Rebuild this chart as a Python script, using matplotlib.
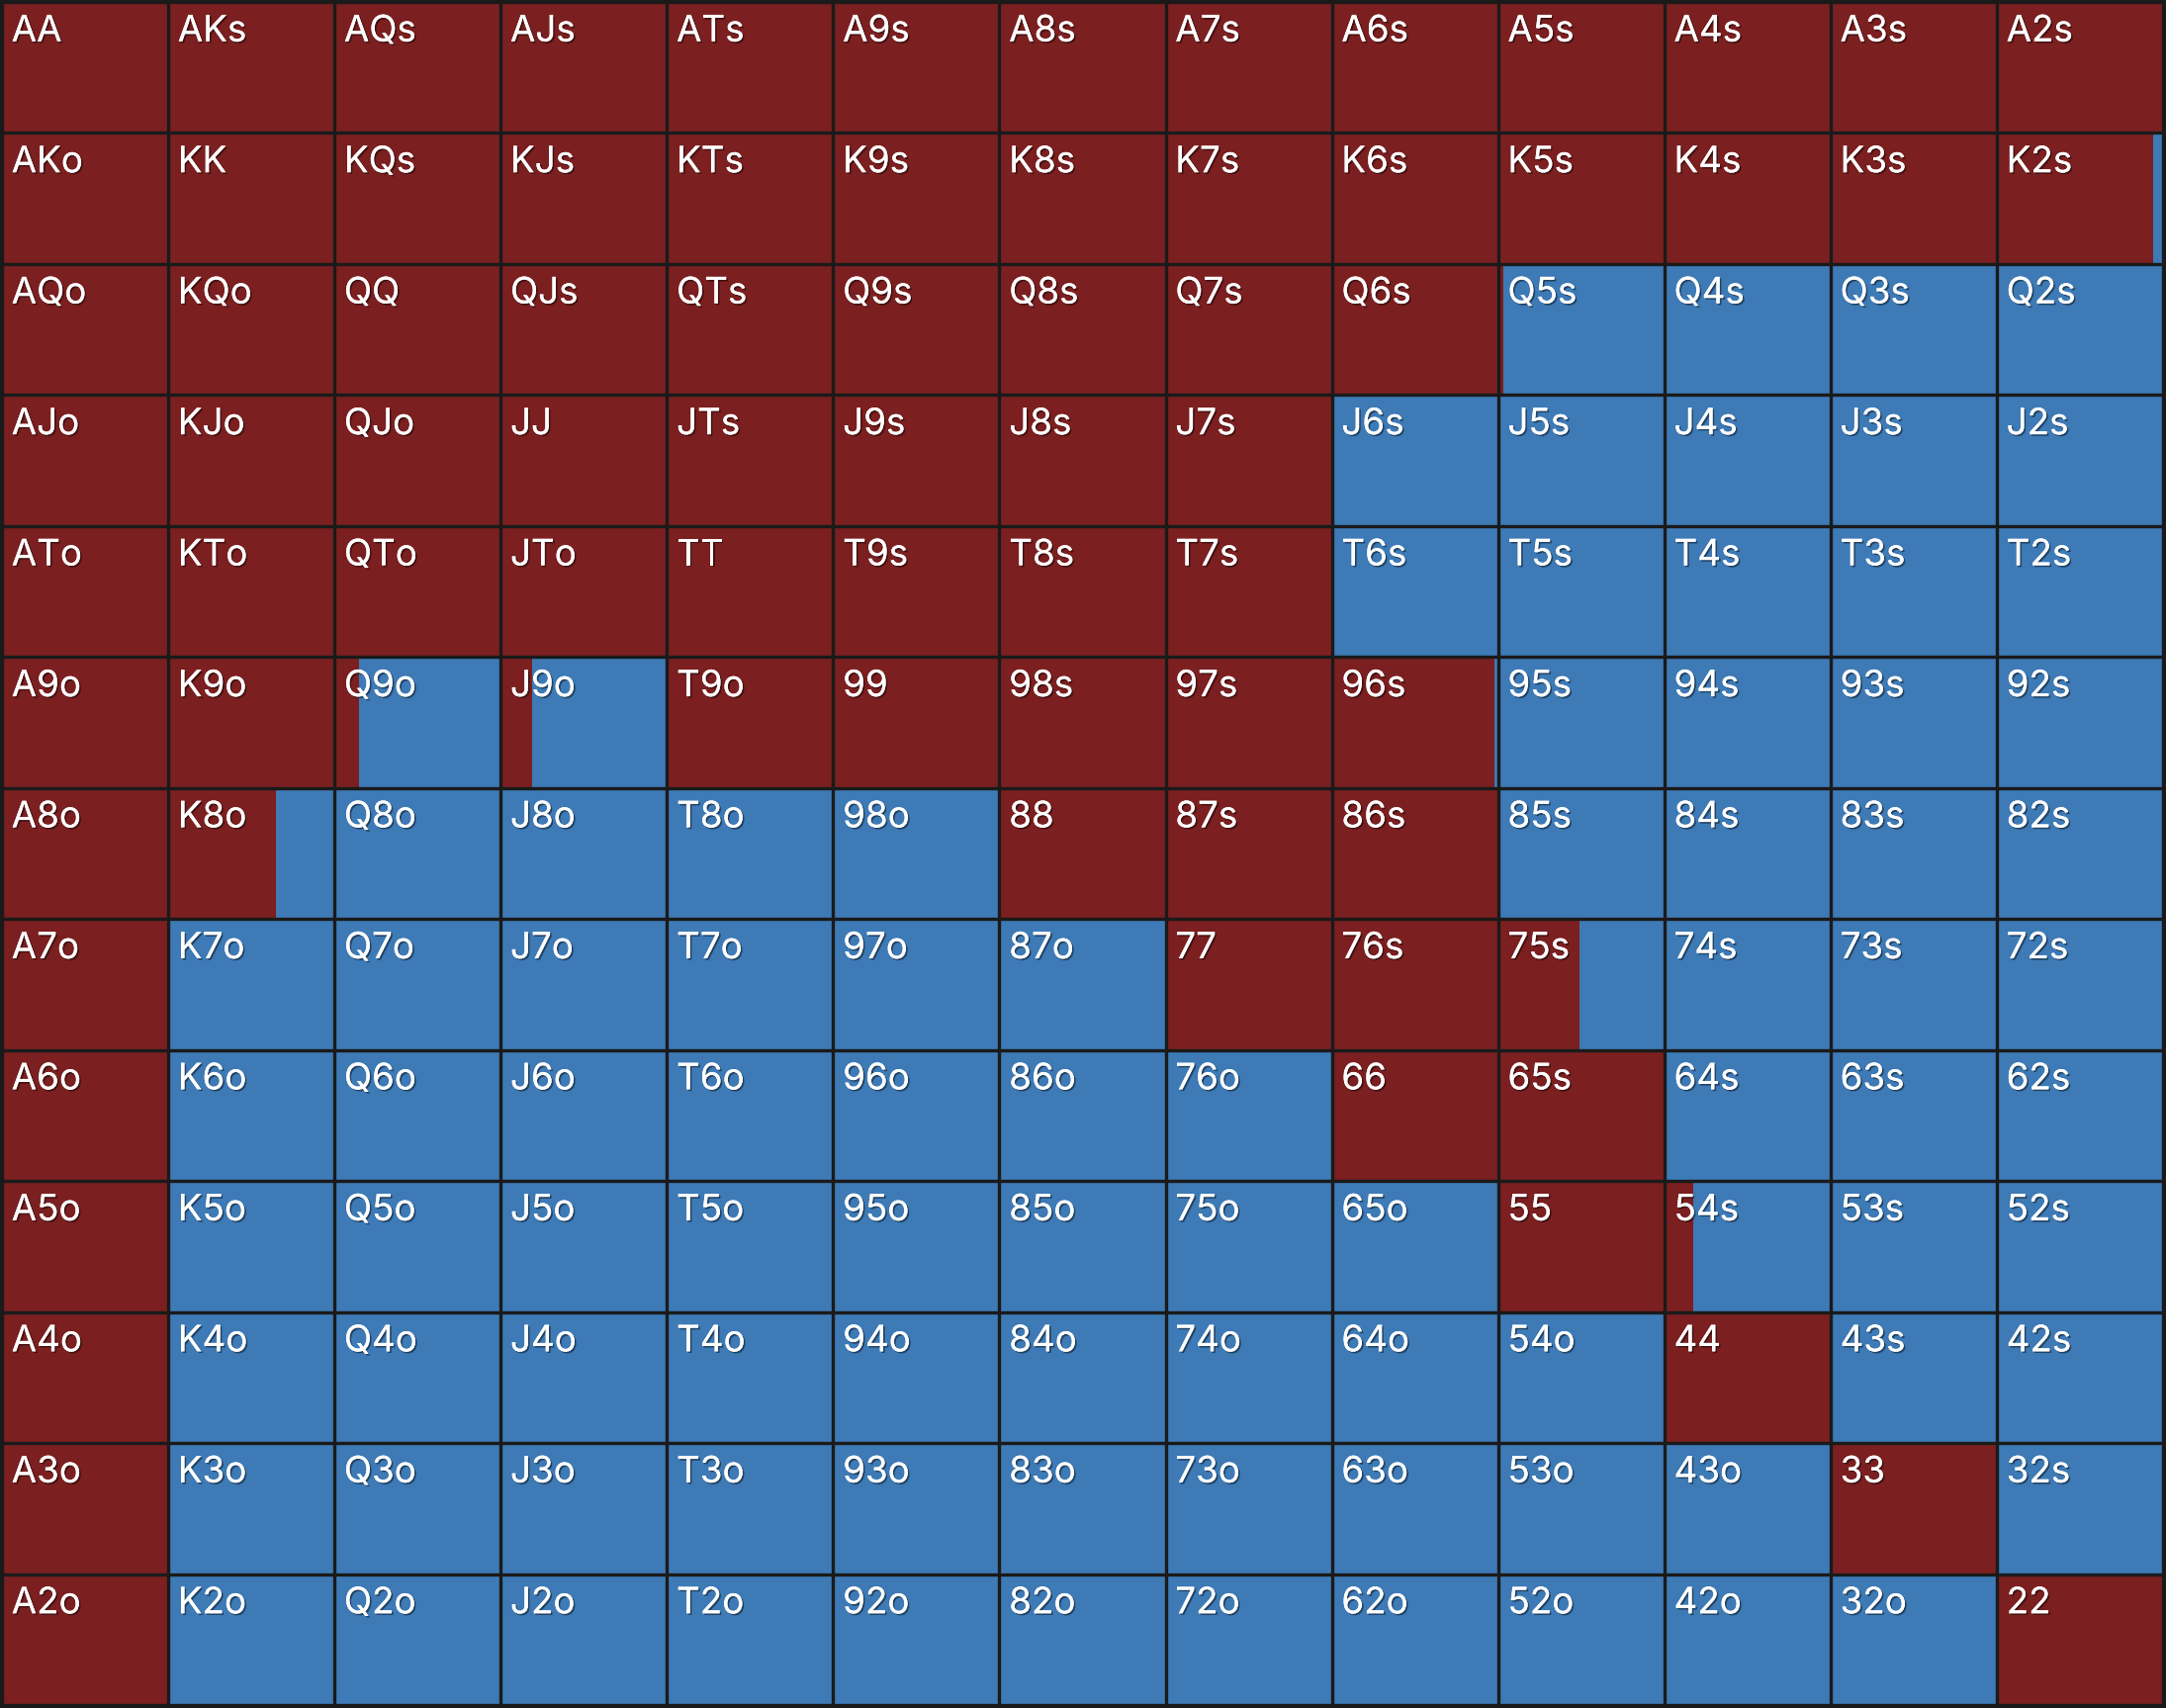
import matplotlib.pyplot as plt
import matplotlib.patheffects as pe
from matplotlib.patches import Rectangle

ranks = ["A", "K", "Q", "J", "T", "9", "8", "7", "6", "5", "4", "3", "2"]

# share of each hand drawn in red (rest is blue), row by row
red_share = [
    [1, 1, 1, 1, 1, 1, 1, 1, 1, 1, 1, 1, 1],
    [1, 1, 1, 1, 1, 1, 1, 1, 1, 1, 1, 1, 0.94],
    [1, 1, 1, 1, 1, 1, 1, 1, 1, 0.03, 0, 0, 0],
    [1, 1, 1, 1, 1, 1, 1, 1, 0, 0, 0, 0, 0],
    [1, 1, 1, 1, 1, 1, 1, 1, 0.01, 0, 0, 0, 0],
    [1, 1, 0.15, 0.19, 1, 1, 1, 1, 0.98, 0, 0, 0, 0],
    [1, 0.65, 0, 0, 0, 0, 1, 1, 1, 0, 0, 0, 0],
    [1, 0, 0, 0, 0, 0, 0, 1, 1, 0.49, 0, 0, 0],
    [1, 0, 0, 0, 0, 0, 0, 0, 1, 1, 0, 0, 0],
    [1, 0, 0, 0, 0, 0, 0, 0, 0, 1, 0.175, 0, 0],
    [1, 0, 0, 0, 0, 0, 0, 0, 0, 0, 1, 0, 0],
    [1, 0, 0, 0, 0, 0, 0, 0, 0, 0, 0, 1, 0],
    [1, 0, 0, 0, 0, 0, 0, 0, 0, 0, 0, 0, 1],
]

RED = "#7b1f20"
BLUE = "#3d7ab6"
LINE = "#1a1a1a"


def hand_label(i, j):
    if i == j:
        return ranks[i] * 2
    if j > i:
        return ranks[i] + ranks[j] + "s"
    return ranks[j] + ranks[i] + "o"


fig = plt.figure(figsize=(21.9, 17.27), dpi=100, facecolor=LINE)
ax = fig.add_axes([2 / 2190, 3 / 1727, 2185 / 2190, 1722 / 1727])
ax.set_xlim(0, 13)
ax.set_ylim(13, 0)
ax.axis("off")

n = len(ranks)
shadow = [pe.withSimplePatchShadow(offset=(1.2, -1.2), shadow_rgbFace="black", alpha=0.45), pe.Normal()]
for i in range(n):
    for j in range(n):
        r = red_share[i][j]
        ax.add_patch(Rectangle((j, i), 1, 1, facecolor=BLUE, edgecolor="none"))
        if r > 0:
            ax.add_patch(Rectangle((j, i), r, 1, facecolor=RED, edgecolor="none"))
        ax.text(j + 0.058, i + 0.30, hand_label(i, j), color="white",
                fontsize=26.5, family=["Inter", "DejaVu Sans"],
                ha="left", va="baseline", path_effects=shadow)

for k in range(n + 1):
    ax.axvline(k, color=LINE, lw=2.4)
    ax.axhline(k, color=LINE, lw=2.4)

fig.savefig("out.png", dpi=100, facecolor=LINE)
